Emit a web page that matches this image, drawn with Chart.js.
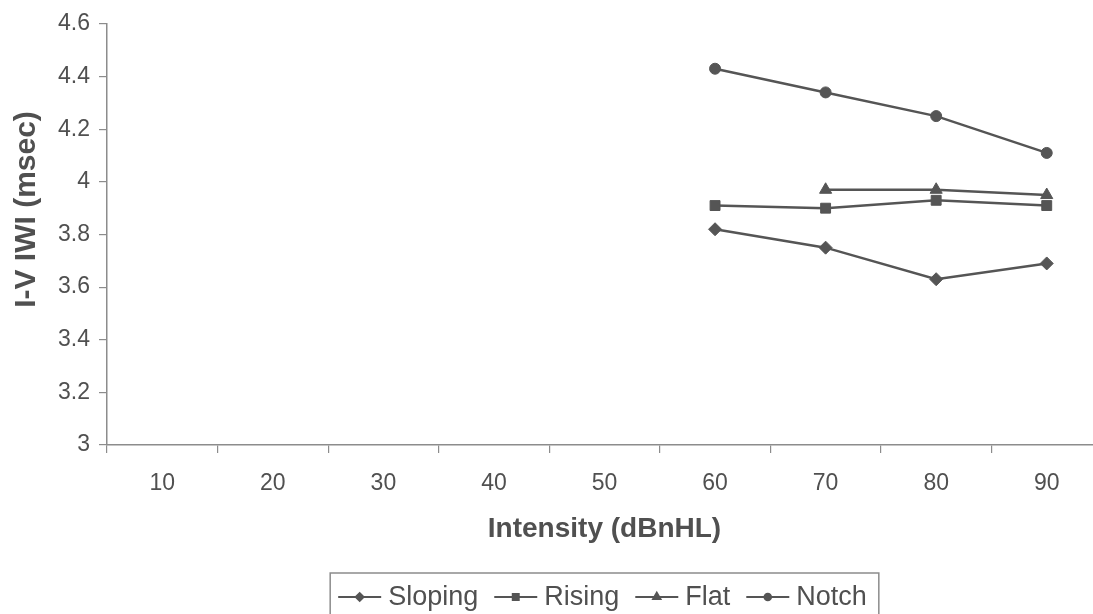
<!DOCTYPE html>
<html>
<head>
<meta charset="utf-8">
<script src="https://cdn.jsdelivr.net/npm/chart.js@4.4.1/dist/chart.umd.min.js"></script>
<style>
  html, body { margin: 0; padding: 0; background: #fff; overflow: hidden; }
</style>
</head>
<body>
<canvas id="ivChart" width="1110" height="614"></canvas>
<script>
// intensity levels and I-V interwave intervals per audiogram type
const intensity = ['10', '20', '30', '40', '50', '60', '70', '80', '90'];
const sloping = [null, null, null, null, null, 3.82, 3.75, 3.63, 3.69];
const rising  = [null, null, null, null, null, 3.91, 3.90, 3.93, 3.91];
const flat    = [null, null, null, null, null, null, 3.97, 3.97, 3.95];
const notch   = [null, null, null, null, null, 4.43, 4.34, 4.25, 4.11];
const yTicks = [3, 3.2, 3.4, 3.6, 3.8, 4, 4.2, 4.4, 4.6];
const yTickLabels = ['3', '3.2', '3.4', '3.6', '3.8', '4', '4.2', '4.4', '4.6'];

const ink = '#555555';
const axisGrey = '#8c8c8c';
const textGrey = '#505050';
const fontFam = '"Liberation Sans", Arial, sans-serif';

function series(label, data, style, radius) {
    return {
        label: label,
        data: data,
        borderColor: ink,
        borderWidth: 2.5,
        backgroundColor: ink,
        pointStyle: style,
        pointRadius: radius,
        pointBackgroundColor: ink,
        pointBorderColor: ink,
        pointBorderWidth: 1,
        tension: 0,
        fill: false
    };
}

// legend with a frame, line + marker symbols like the original
const boxedLegend = {
    id: 'boxedLegend',
    afterDraw(chart) {
        const ctx = chart.ctx;
        const area = chart.chartArea;
        ctx.save();
        ctx.font = '27px ' + fontFam;
        const symW = 43, gapSym = 7, gapItem = 16, pad = 8;
        const items = chart.data.datasets.map(ds => ({ ds: ds, w: ctx.measureText(ds.label).width }));
        const total = items.reduce((s, it) => s + symW + gapSym + it.w, 0) + gapItem * (items.length - 1);
        const boxW = total + pad * 2;
        const left = (area.left + area.right) / 2 - 2 - boxW / 2;
        const top = chart.height - 41;
        const cy = chart.height - 17;

        ctx.strokeStyle = axisGrey;
        ctx.lineWidth = 1.5;
        ctx.strokeRect(left, top, boxW + 4, 60);

        let x = left + pad;
        items.forEach(it => {
            ctx.strokeStyle = ink;
            ctx.lineWidth = 2;
            ctx.beginPath();
            ctx.moveTo(x, cy);
            ctx.lineTo(x + symW, cy);
            ctx.stroke();
            ctx.fillStyle = ink;
            Chart.helpers.drawPoint(ctx, {
                pointStyle: it.ds.pointStyle,
                radius: it.ds.pointRadius * 0.6,
                borderWidth: 1,
                rotation: 0
            }, x + symW / 2, cy);
            ctx.fillStyle = textGrey;
            ctx.textBaseline = 'middle';
            ctx.textAlign = 'left';
            ctx.fillText(it.ds.label, x + symW + gapSym, cy + 1);
            x += symW + gapSym + it.w + gapItem;
        });
        ctx.restore();
    }
};

const ctx = document.getElementById('ivChart').getContext('2d');

const ivChart = new Chart(ctx, {
    type: 'line',
    data: {
        labels: intensity,
        datasets: [
            series('Sloping', sloping, 'rectRot', 6.5),
            series('Rising', rising, 'rect', 7),
            series('Flat', flat, 'triangle', 7),
            series('Notch', notch, 'circle', 5.5)
        ]
    },
    options: {
        responsive: false,
        animation: false,
        layout: { padding: { top: 24, right: 4, bottom: 50, left: 0 } },
        plugins: {
            legend: { display: false },
            tooltip: { enabled: false }
        },
        scales: {
            x: {
                offset: true,
                grid: { offset: true, drawOnChartArea: false, tickLength: 8, color: axisGrey, lineWidth: 1.2 },
                border: { display: true, color: axisGrey, width: 1.5 },
                ticks: { padding: 17, color: textGrey, font: { family: fontFam, size: 23 } },
                title: {
                    display: true,
                    text: 'Intensity (dBnHL)',
                    color: textGrey,
                    font: { family: fontFam, size: 28, weight: 'bold' },
                    padding: { top: 0, bottom: 18 }
                },
                afterFit(scale) { scale.height = 119; }
            },
            y: {
                min: 3,
                max: 4.6,
                afterBuildTicks(scale) { scale.ticks = yTicks.map(v => ({ value: v })); },
                grid: { drawOnChartArea: false, tickLength: 8, color: axisGrey, lineWidth: 1.2 },
                border: { display: true, color: axisGrey, width: 1.5 },
                ticks: {
                    padding: 9,
                    color: textGrey,
                    font: { family: fontFam, size: 23 },
                    callback: (v, i) => yTickLabels[i]
                },
                title: {
                    display: true,
                    // leading spaces push the rotated title up, as in the original
                    text: '      I-V IWI (msec)',
                    color: textGrey,
                    font: { family: fontFam, size: 30, weight: 'bold' },
                    padding: { top: 9, bottom: 0 }
                },
                afterFit(scale) { scale.width = 107; }
            }
        }
    },
    plugins: [boxedLegend]
});
</script>
</body>
</html>
